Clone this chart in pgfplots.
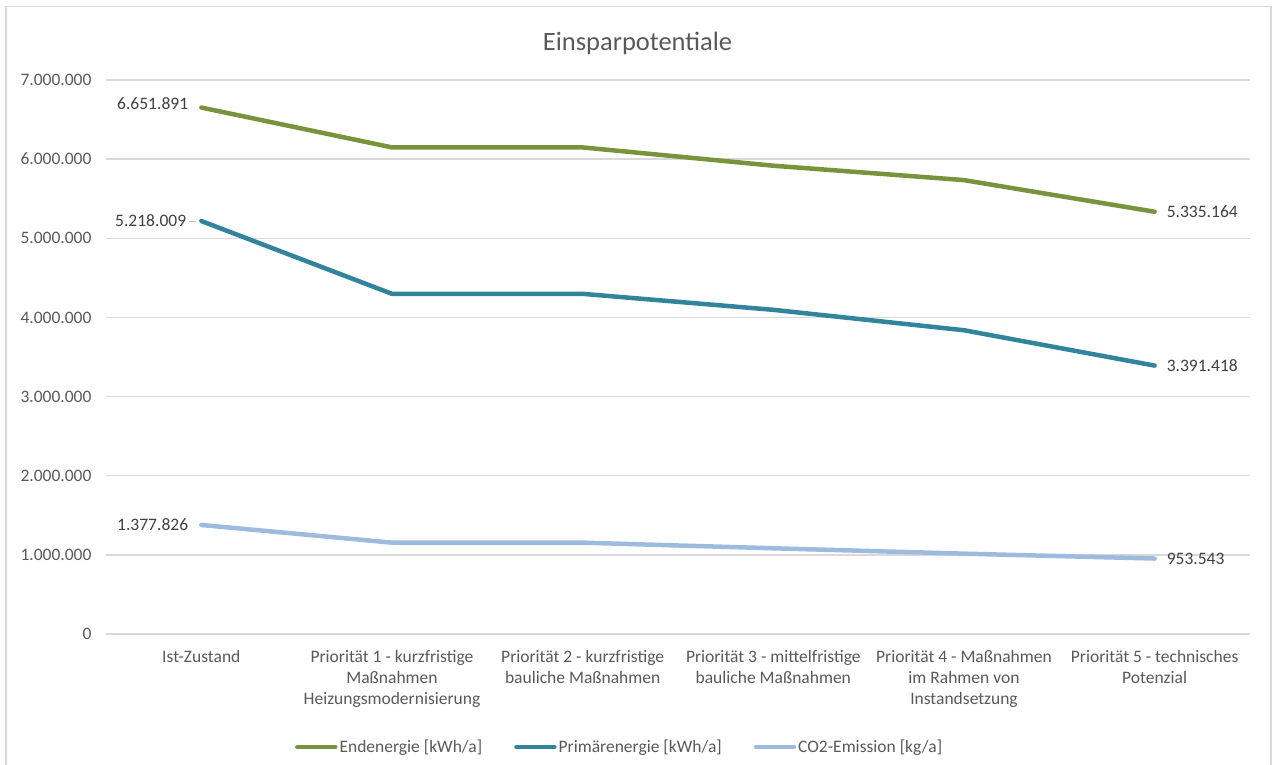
\documentclass[border=0pt]{standalone}
\usepackage{pgfplots}
\pgfplotsset{compat=1.18}
\usepackage{fontspec}
\setmainfont{Carlito}

\definecolor{endgreen}{HTML}{77933C}
\definecolor{primteal}{HTML}{31849B}
\definecolor{co2blue}{HTML}{9DBBDF}
\definecolor{gridgray}{HTML}{D9D9D9}
\definecolor{ticktext}{HTML}{595959}
\definecolor{labeltext}{HTML}{404040}

\newcommand{\tickfont}{\fontsize{17.5}{21}\selectfont}

\begin{document}
\begin{tikzpicture}[x=1pt,y=1pt]
\useasboundingbox (0,0) rectangle (1274,765);
% chart frame
\draw[gridgray, line width=1.5pt] (6,-5) -- (6,758.5) -- (1271,758.5) -- (1271,-5);
% title
\node[text=ticktext, font=\fontsize{26.5}{30}\selectfont] at (637.5,722) {Einsparpotentiale};

\begin{axis}[
  at={(106pt,131pt)}, anchor=south west,
  scale only axis, width=1144pt, height=554pt,
  xmin=-0.5, xmax=5.5, ymin=0, ymax=7000000,
  axis line style={draw=none},
  major tick length=0pt,
  ytick={0,1000000,2000000,3000000,4000000,5000000,6000000,7000000},
  ymajorgrids, grid style={gridgray, line width=1.3pt},
  scaled y ticks=false,
  yticklabel style={/pgf/number format/.cd, fixed, 1000 sep={.}, assume math mode=true,
    /tikz/.cd, font=\tickfont, text=ticktext, xshift=-11pt},
  xtick={0,1,2,3,4,5},
  xticklabels={Ist-Zustand,
    {Priorität 1 - kurzfristige\\Maßnahmen\\Heizungsmodernisierung},
    {Priorität 2 - kurzfristige\\bauliche Maßnahmen},
    {Priorität 3 - mittelfristige\\bauliche Maßnahmen},
    {Priorität 4 - Maßnahmen\\im Rahmen von\\Instandsetzung},
    {Priorität 5 - technisches\\Potenzial}},
  xticklabel style={align=center, font=\tickfont, text=ticktext, yshift=-13pt},
  legend columns=3,
  legend style={draw=none, fill=none, at={(0.449,-0.204)}, anchor=center,
    font=\tickfont, text=ticktext, inner sep=0pt,
    nodes={inner sep=2pt},
    /tikz/every even column/.append style={column sep=30pt}},
  legend image code/.code={\draw[#1, line width=4.5pt, line cap=round] (0pt,0pt) -- (38pt,0pt);},
  every axis plot/.append style={line width=4.5pt, line join=round, line cap=round},
  clip=false,
]
\addplot[endgreen] coordinates {
  (0,6651891) (1,6148000) (2,6148000) (3,5917000) (4,5735000) (5,5335164)};
\addlegendentry{Endenergie [kWh/a]}
\addplot[primteal] coordinates {
  (0,5218009) (1,4298000) (2,4298000) (3,4096000) (4,3838000) (5,3391418)};
\addlegendentry{Primärenergie [kWh/a]}
\addplot[co2blue] coordinates {
  (0,1377826) (1,1154000) (2,1154000) (3,1083000) (4,1015000) (5,953543)};
\addlegendentry{CO2-Emission [kg/a]}

% data labels at first and last category
\begin{scope}[every node/.style={font=\tickfont, text=labeltext, inner sep=0pt}]
\node[anchor=east] at ([xshift=-13pt,yshift=4pt]axis cs:0,6651891) {6.651.891};
\node[anchor=east] at ([xshift=-15pt]axis cs:0,5218009) {5.218.009};
\draw[gridgray!70!gray, line width=1pt] ([xshift=-12pt]axis cs:0,5218009) -- ([xshift=-5pt]axis cs:0,5218009);
\node[anchor=east] at ([xshift=-13pt]axis cs:0,1377826) {1.377.826};
\node[anchor=west] at ([xshift=12pt]axis cs:5,5335164) {5.335.164};
\node[anchor=west] at ([xshift=12pt]axis cs:5,3391418) {3.391.418};
\node[anchor=west] at ([xshift=12pt]axis cs:5,953543) {953.543};
\end{scope}
\end{axis}
\end{tikzpicture}
\end{document}
